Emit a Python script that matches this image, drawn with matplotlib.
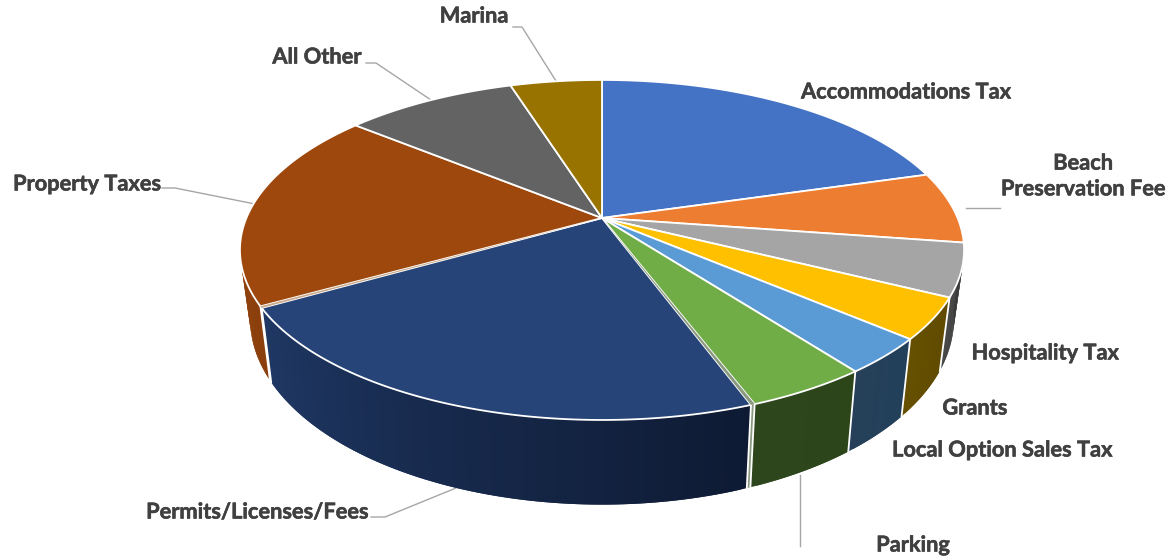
import numpy as np
import matplotlib
matplotlib.use("Agg")
import matplotlib.pyplot as plt
import matplotlib.patheffects as pe

# clockwise from 12 o'clock, percent
names = ["Accommodations Tax", "Beach Preservation Fee", "Hospitality Tax", "Grants",
         "Local Option Sales Tax", "Parking", "sliver1", "Permits/Licenses/Fees",
         "sliver2", "Property Taxes", "All Other", "Marina"]
values = [20.5, 6.8, 5.0, 3.9, 3.4, 4.6, 0.15, 22.3, 0.15, 19.0, 9.2, 4.9]
top_colors = ["#4472C4", "#ED7D31", "#A5A5A5", "#FFC000", "#5B9BD5", "#70AD47", "#8A9A80",
              "#264478", "#C9A98A", "#9E480E", "#636363", "#997300"]
wall_left = ["#2F4F88", "#A5561F", "#4A4A4A", "#665000", "#264059", "#2E461C", "#8A9A80",
             "#1F3864", "#C9A98A", "#9E480E", "#444444", "#665000"]
wall_right = ["#2F4F88", "#A5561F", "#3A3A3A", "#5F4A00", "#22405A", "#2C4519", "#8A9A80",
              "#0E1A33", "#C9A98A", "#8A3F0C", "#444444", "#665000"]

# perspective of the top disc
CX, CY = 602, 218
A, B, K = 355.6, 164.0, -0.188


def top_xy(theta):
    u, v = np.sin(theta), -np.cos(theta)
    w = 1 + K * v
    return CX + A * u / w, CY + B * v / w


def bottom_xy(x, y):
    return CX + 0.972 * (x - CX), y + 46 + 0.092 * y


def hexmix(c1, c2, t):
    a = np.array(matplotlib.colors.to_rgb(c1))
    b = np.array(matplotlib.colors.to_rgb(c2))
    return tuple(a + (b - a) * t)


fig = plt.figure(figsize=(11.72, 5.59), dpi=100)
ax = fig.add_axes([0, 0, 1, 1])
ax.set_xlim(0, 1172)
ax.set_ylim(559, 0)
ax.axis("off")

edges = np.cumsum([0] + values) / sum(values) * 2 * np.pi

# walls, each segment overlaps the next one so no seams show
for i in range(len(values)):
    n = max(int(values[i] * 4), 2)
    th = np.linspace(edges[i], edges[i + 1], n + 1)
    tx, ty = top_xy(th)
    bx, by = bottom_xy(tx, ty)
    order = list(range(n))
    if i < 7:  # right hand side, paint from the far end
        order = order[::-1]
    for j in order:
        if np.cos(th[j]) > 0.35 and np.cos(th[j + 1]) > 0.35:
            continue
        col = hexmix(wall_left[i], wall_right[i], 1 - (j + 0.5) / n)
        if i < 7:
            k = max(j - 1, 0)
            xs = [tx[k], tx[j + 1], bx[j + 1], bx[k]]
            ys = [ty[k], ty[j + 1], by[j + 1], by[k]]
        else:
            k = min(j + 2, n)
            xs = [tx[j], tx[k], bx[k], bx[j]]
            ys = [ty[j], ty[k], by[k], by[j]]
        ax.fill(xs, ys, color=col, lw=0, zorder=2)

# white seams on the walls
for e in edges[3:10]:
    tx, ty = top_xy(e)
    bx, by = bottom_xy(tx, ty)
    ax.plot([tx, bx], [ty, by], color="white", lw=1.3, zorder=3)

# top faces
for i in range(len(values)):
    th = np.linspace(edges[i], edges[i + 1], max(int(values[i] * 4), 2) + 1)
    tx, ty = top_xy(th)
    if values[i] < 1:
        ax.fill(np.r_[CX, tx], np.r_[CY, ty], facecolor=top_colors[i], lw=0, zorder=5)
    else:
        ax.fill(np.r_[CX, tx], np.r_[CY, ty], facecolor=top_colors[i], edgecolor="white",
                lw=1.3, joinstyle="round", zorder=4)

# leader lines
line_col = "#A6A6A6"
leaders = [
    ([513, 522, 556], [27, 27, 81]),
    ([366, 376, 431], [63, 63, 100]),
    ([162, 175, 255], [188, 188, 204]),
    ([371, 385, 456], [517, 517, 488]),
    ([800, 800], [475, 546]),
    ([966, 1000], [208, 208]),
]
for xs, ys in leaders:
    ax.plot(xs, ys, color=line_col, lw=1.0, zorder=1)

# labels
text_col = "#404040"
label_pos = {
    "Accommodations Tax": (906, 92),
    "Beach Preservation Fee": (1083, 176),
    "Hospitality Tax": (1045, 353),
    "Grants": (975, 408),
    "Local Option Sales Tax": (1002, 450),
    "Parking": (913, 545),
    "Permits/Licenses/Fees": (257, 512),
    "Property Taxes": (87, 184),
    "All Other": (317, 57),
    "Marina": (474, 16),
}
for nm, (x, y) in label_pos.items():
    txt = "Beach\nPreservation Fee" if nm == "Beach Preservation Fee" else nm
    t = ax.text(x, y, txt, ha="center", va="center", fontsize=15.7, fontweight="bold",
                family="Lato", color=text_col, linespacing=1.28, zorder=6)
    t.set_path_effects([pe.withStroke(linewidth=0.4, foreground=text_col)])

fig.savefig("out.png", dpi=100)
